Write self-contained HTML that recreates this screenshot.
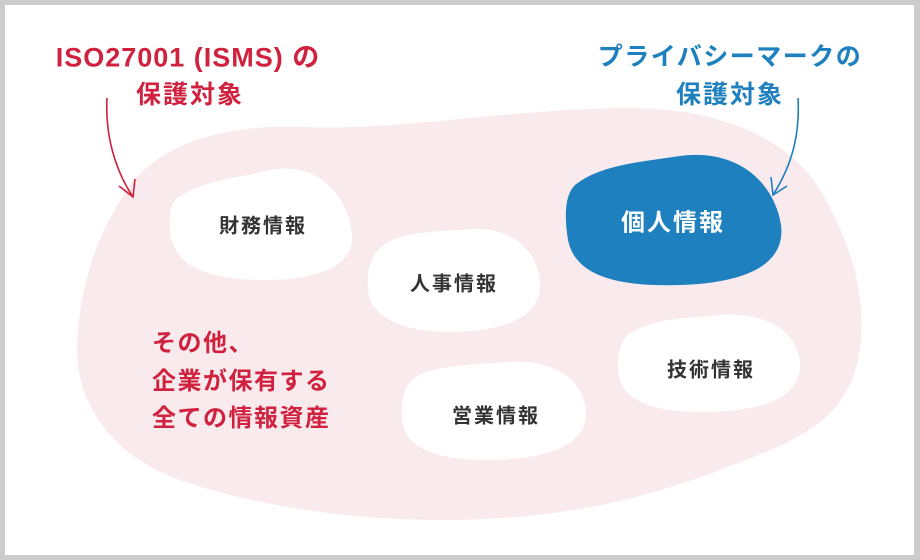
<!DOCTYPE html>
<html><head><meta charset="utf-8"><style>
html,body{margin:0;padding:0;}
body{width:920px;height:560px;background:#cccccc;position:relative;overflow:hidden;font-family:"Liberation Sans","Noto Sans CJK JP",sans-serif;}
.in{position:absolute;left:5px;top:5px;width:909px;height:550px;background:#fff;}
svg{position:absolute;left:0;top:0;}
.t{position:absolute;font-weight:bold;white-space:nowrap;transform:translate(-50%,-50%);}
.n{font-size:20px;letter-spacing:2px;color:#333;}
</style></head><body>
<div class="in"></div>
<svg width="920" height="560" viewBox="0 0 920 560">
<path d="M130,185 C170,135 240,125 300,127 C400,131 500,110 620,108 C720,106 790,140 820,190 C850,240 870,300 858,360 C845,420 800,440 720,470 C640,500 560,520 440,520 C350,520 250,505 180,480 C110,455 70,400 78,330 C84,270 100,230 130,185 Z" fill="#f8eaed"/>
<path d="M175,200 C200,180 240,178 270,170 C320,160 350,200 352,235 C354,265 320,280 265,280 C205,280 172,265 170,230 C169,215 170,207 175,200 Z" fill="#fff"/>
<path d="M380,248 C400,230 440,232 470,229 C515,226 540,255 540,285 C540,320 500,330 455,332 C405,333 370,318 368,290 C367,270 370,258 380,248 Z" fill="#fff"/>
<path d="M575,185 C600,165 640,162 680,156 C740,148 775,185 781,225 C786,265 745,283 680,285 C615,287 575,275 568,240 C564,215 565,195 575,185 Z" fill="#1e80be"/>
<path d="M628,335 C650,318 690,318 720,315 C770,311 800,335 800,365 C800,395 770,410 710,412 C650,413 620,400 618,370 C617,355 620,343 628,335 Z" fill="#fff"/>
<path d="M412,380 C430,365 470,365 505,362 C560,358 586,385 586,413 C586,445 550,458 495,460 C440,461 405,450 402,420 C401,400 404,388 412,380 Z" fill="#fff"/>
<path d="M107,98 C105,135 115,170 133,197" fill="none" stroke="#d0223f" stroke-width="1.6"/>
<path d="M119,186 L133,197 L135,179" fill="none" stroke="#d0223f" stroke-width="1.6"/>
<path d="M798,98 C800,135 792,165 773,195" fill="none" stroke="#1e80be" stroke-width="1.6"/>
<path d="M771,177 L773,195 L787,186" fill="none" stroke="#1e80be" stroke-width="1.6"/>
</svg>
<div class="t" style="left:188px;top:55px;font-size:27px;letter-spacing:1px;color:#d0223f;">ISO27001 (ISMS) の</div>
<div class="t" style="left:190px;top:93px;font-size:25px;letter-spacing:2px;color:#d0223f;">保護対象</div>
<div class="t" style="left:730px;top:55px;font-size:25px;letter-spacing:1.5px;color:#1e80be;">プライバシーマークの</div>
<div class="t" style="left:730px;top:93px;font-size:25px;letter-spacing:2px;color:#1e80be;">保護対象</div>
<div class="t n" style="left:263px;top:224px;">財務情報</div>
<div class="t n" style="left:454px;top:282px;">人事情報</div>
<div class="t" style="left:673px;top:220px;font-size:24px;letter-spacing:2px;color:#fff;">個人情報</div>
<div class="t n" style="left:711px;top:368px;">技術情報</div>
<div class="t n" style="left:496px;top:414px;">営業情報</div>
<div style="position:absolute;left:152px;top:325px;font-size:24px;line-height:37.5px;letter-spacing:1.5px;font-weight:bold;color:#d0223f;">その他、<br>企業が保有する<br>全ての情報資産</div>
</body></html>
